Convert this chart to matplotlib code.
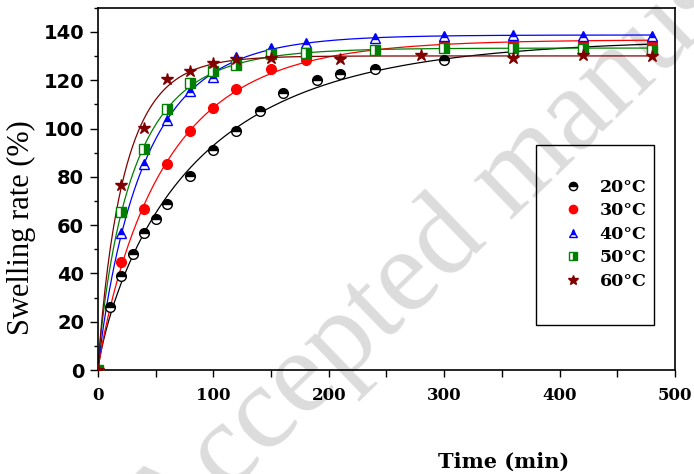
import numpy as np
import matplotlib
matplotlib.use("Agg")
import matplotlib.pyplot as plt
from matplotlib.patches import Rectangle
from matplotlib.ticker import MultipleLocator

# swelling rate (%) vs time (min) at each temperature
t_20 = [0, 10, 20, 30, 40, 50, 60, 80, 100, 120, 140, 160, 190, 210, 240, 300, 360, 420, 480]
s_20 = [0, 26.2, 38.9, 47.9, 56.9, 62.7, 68.6, 80.5, 91.2, 99.1, 107.2, 114.6, 120.1, 122.6, 124.6, 128.4, 131.5, 132.5, 133.0]

t_30 = [0, 20, 40, 60, 80, 100, 120, 150, 180, 240, 300, 360, 420, 480]
s_30 = [0, 44.8, 66.8, 85.2, 99.0, 108.4, 116.2, 124.6, 128.4, 132.5, 135.3, 135.5, 135.8, 135.5]

t_40 = [0, 20, 40, 60, 80, 100, 120, 150, 180, 240, 300, 360, 420, 480]
s_40 = [0, 56.6, 85.2, 103.5, 115.7, 121.2, 129.7, 133.5, 135.3, 137.6, 138.3, 138.8, 138.3, 138.3]

t_50 = [0, 20, 40, 60, 80, 100, 120, 150, 180, 240, 300, 360, 420, 480]
s_50 = [0, 65.5, 91.4, 108.0, 118.7, 123.8, 126.3, 130.8, 131.1, 132.5, 133.2, 133.2, 133.0, 132.5]

t_60 = [0, 20, 40, 60, 80, 100, 120, 150, 210, 280, 360, 420, 480]
s_60 = [0, 76.6, 100.3, 120.4, 124.0, 127.0, 128.7, 129.3, 128.7, 130.6, 129.3, 130.4, 130.0]

labels = ['20°C', '30°C', '40°C', '50°C', '60°C']


def fit_curve(t, s):
    # least squares fit of s = smax*(1-exp(-(t/tau)^n)), grid over tau and n
    t = np.asarray(t, float)
    s = np.asarray(s, float)
    ns = np.linspace(0.5, 1.8, 66)[:, None, None]
    taus = np.linspace(3, 200, 395)[None, :, None]
    f = 1 - np.exp(-(t[None, None, :] / taus) ** ns)
    smax = (f * s).sum(-1) / (f * f).sum(-1)
    err = ((smax[..., None] * f - s) ** 2).sum(-1)
    i, j = np.unravel_index(np.argmin(err), err.shape)
    n, tau, sm = ns[i, 0, 0], taus[0, j, 0], smax[i, j]
    tt = np.linspace(0, 480, 400)
    return tt, sm * (1 - np.exp(-(tt / tau) ** n))


fig = plt.figure(figsize=(6.94, 4.74), dpi=100)
ax = fig.add_axes([0.1412, 0.2194, 0.8314, 0.7642])
ax.patch.set_alpha(0)

# watermark behind everything
fig.text(165 / 694, 1 - 555 / 474, 'Accepted manuscript', rotation=44,
         rotation_mode='anchor', ha='left', va='baseline',
         fontsize=86, family='Liberation Serif', color='#dcdcdc', zorder=-5)

series = [
    (t_20, s_20, 'black', dict(marker='o', fillstyle='top', markerfacecoloralt='white')),
    (t_30, s_30, 'red', dict(marker='o')),
    (t_40, s_40, 'blue', dict(marker='^', fillstyle='top', markerfacecoloralt='white')),
    (t_50, s_50, 'green', dict(marker='s', fillstyle='right', markerfacecoloralt='white')),
    (t_60, s_60, '#800000', dict(marker='*', markersize=9)),
]

handles = []
for (t, s, c, mk), lab in zip(series, labels):
    tt, ss = fit_curve(t, s)
    ax.plot(tt, ss, color=c, lw=0.9, zorder=2)
    kw = dict(markersize=7, markeredgewidth=1.0)
    kw.update(mk)
    h, = ax.plot(t, s, ls='none', color=c, markeredgecolor=c, label=lab, zorder=3, **kw)
    handles.append(h)

ax.set_xlim(0, 500)
ax.set_ylim(0, 150)
ax.xaxis.set_major_locator(MultipleLocator(100))
ax.xaxis.set_minor_locator(MultipleLocator(50))
ax.yaxis.set_major_locator(MultipleLocator(20))
ax.yaxis.set_minor_locator(MultipleLocator(10))
ax.tick_params(axis='x', which='major', direction='out', length=5, width=1, pad=7)
ax.tick_params(axis='x', which='minor', direction='out', length=5, width=1)
ax.tick_params(axis='y', which='major', direction='out', length=6, width=1, pad=4)
ax.tick_params(axis='y', which='minor', direction='out', length=3, width=1)
for sp in ax.spines.values():
    sp.set_linewidth(1.2)

for lb in ax.get_xticklabels():
    lb.set_family('DejaVu Serif')
    lb.set_weight('bold')
    lb.set_fontsize(12)
for lb in ax.get_yticklabels():
    lb.set_family('DejaVu Sans')
    lb.set_weight('bold')
    lb.set_fontsize(14)

fig.text(21 / 694, 1 - 228 / 474, 'Swelling rate (%)', rotation=90, ha='center',
         va='center', family='Liberation Serif', fontsize=22)
fig.text(504 / 694, 1 - 462 / 474, 'Time (min)', ha='center', va='center',
         family='DejaVu Serif', weight='bold', fontsize=15)

# legend box
ax.add_patch(Rectangle((0.759, 0.1242), 0.2045, 0.497, transform=ax.transAxes,
                       fill=False, edgecolor='black', lw=1.0, zorder=5))
leg = ax.legend(handles=handles, loc='upper left', frameon=False,
                bbox_to_anchor=(556 / 694, 1 - 170 / 474), bbox_transform=fig.transFigure,
                prop=dict(family='DejaVu Serif', weight='bold', size=12.5),
                borderpad=0, handlelength=1.0, handletextpad=1.0,
                labelspacing=0.38, markerscale=0.85)

fig.savefig('out.png', dpi=100)
